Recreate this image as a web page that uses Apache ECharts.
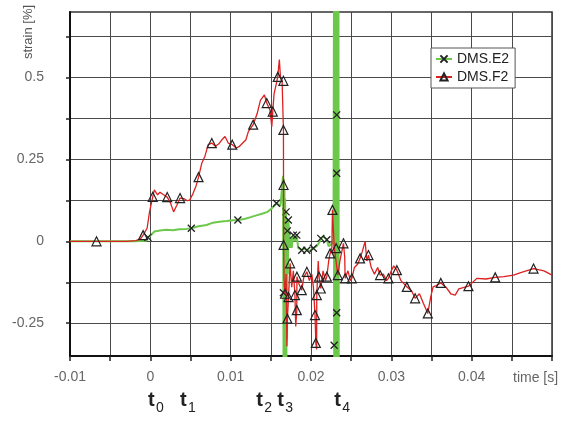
<!DOCTYPE html>
<html><head><meta charset="utf-8">
<script src="https://cdn.jsdelivr.net/npm/echarts@6/dist/echarts.min.js"></script>
<style>html,body{margin:0;padding:0;background:#fff}#c{width:565px;height:421px}</style>
</head><body><div id="c"></div>
<script>
const xLabelValues = [-0.01, 0, 0.01, 0.02, 0.03, 0.04];
const yLabelValues = [-0.25, 0, 0.25, 0.5];
const yTickValues = [-0.25, -0.125, 0, 0.125, 0.25, 0.375, 0.5, 0.625];
const seriesNames = ['DMS.E2', 'DMS.F2'];
const eventSubs = ['0', '1', '2', '3', '4'];
const eventTimes = [-0.0003, 0.0037, 0.0132, 0.0158, 0.0229];
const xAxisTitle = 'time [s]';
const yAxisTitle = 'strain [%]';

// [time, strain, marker]
const greenData = [
  [-0.01,0,0],[-0.0067,0,0],[-0.002,0,0],[-0.0005,0.002,0],[-0.0003,0.012,1],[0.0002,0.022,0],
  [0.0005,0.03,0],[0.0012,0.033,0],[0.002,0.035,0],[0.0028,0.034,0],[0.0036,0.037,0],[0.0045,0.038,0],
  [0.0051,0.04,1],[0.006,0.046,0],[0.007,0.05,0],[0.0078,0.057,0],[0.0086,0.06,0],[0.0095,0.062,0],
  [0.0103,0.064,0],[0.0109,0.065,1],[0.0117,0.068,0],[0.0125,0.074,0],[0.0133,0.08,0],[0.014,0.085,0],
  [0.0146,0.09,0],[0.0151,0.1,0],[0.0157,0.116,1],[0.0162,0.108,0],
  [0.01652,0.2,0],[0.01656,-0.157,1],[0.01658,-0.36,0],[0.01662,0.19,0],[0.01666,-0.36,0],[0.0167,0.16,0],
  [0.01674,-0.36,0],[0.01678,0.13,0],[0.01682,-0.36,0],[0.0169,0.09,1],[0.01694,-0.36,0],[0.01698,0.07,0],
  [0.01702,-0.3,0],[0.01706,0.032,1],[0.01712,-0.1,0],[0.01718,0.065,1],[0.0173,0.02,0],[0.0174,-0.02,0],
  [0.0175,0.01,0],[0.0176,-0.02,0],[0.0177,0.005,0],
  [0.0178,0.019,1],[0.018,0.0,0],[0.01823,0.019,1],[0.0184,-0.02,0],[0.0186,-0.025,0],[0.01885,-0.027,1],
  [0.0191,-0.02,0],[0.01948,-0.027,1],[0.0198,-0.03,0],[0.0203,-0.021,1],[0.0207,-0.015,0],[0.021,-0.005,0],
  [0.02122,0.009,1],[0.0216,0.015,0],[0.02197,0.005,1],[0.0222,-0.015,0],[0.0225,-0.01,0],[0.0228,0.0,0],
  [0.02286,0.75,0],[0.02288,-0.317,1],[0.0229,-0.36,0],[0.02294,0.75,0],[0.02298,-0.36,0],[0.02302,0.75,0],
  [0.02306,-0.36,0],[0.0231,0.75,0],[0.02314,-0.36,0],[0.02318,0.75,0],[0.0232,0.386,1],[0.0232,0.208,1],
  [0.0232,-0.218,1],[0.02322,-0.36,0],[0.02326,0.75,0],[0.0233,-0.36,0],[0.02334,0.75,0],[0.02338,-0.36,0],
  [0.02342,0.75,0],[0.02345,-0.36,0]
];

const redData = [
  [-0.01,0,0],[-0.0067,0,1],[-0.003,0,0],[-0.0018,0.002,0],[-0.0012,0.008,0],[-0.0009,0.019,1],
  [-0.0004,0.04,0],[-0.0001,0.09,0],[0.0003,0.136,1],[0.0005,0.157,0],[0.0009,0.142,0],[0.0012,0.15,0],
  [0.0016,0.143,0],[0.0021,0.135,1],[0.0025,0.118,0],[0.0029,0.09,0],[0.0033,0.11,0],[0.0037,0.132,1],
  [0.0042,0.13,0],[0.0046,0.124,0],[0.0049,0.126,0],[0.0053,0.145,0],[0.0057,0.17,0],[0.006,0.196,1],
  [0.0064,0.238,0],[0.0068,0.26,0],[0.0072,0.295,0],[0.00765,0.30,1],[0.0081,0.29,0],[0.0085,0.297,0],
  [0.0089,0.31,0],[0.0093,0.32,0],[0.0097,0.3,0],[0.0102,0.295,1],[0.0107,0.285,0],[0.0111,0.29,0],
  [0.0115,0.3,0],[0.0119,0.31,0],[0.0122,0.335,0],[0.0128,0.356,1],[0.0133,0.39,0],[0.0137,0.43,0],
  [0.0142,0.447,0],[0.01449,0.422,1],[0.0149,0.40,0],[0.01512,0.35,0],[0.01524,0.396,1],[0.0154,0.45,0],
  [0.0157,0.483,0],[0.01586,0.502,1],[0.01606,0.555,0],[0.0162,0.50,0],[0.0164,0.49,0],[0.01656,0.49,1],
  [0.01657,0.34,1],[0.01658,0.172,1],[0.01659,-0.011,1],[0.01665,-0.12,0],[0.01677,-0.16,1],[0.0169,-0.1,0],
  [0.017,-0.32,0],[0.01706,-0.236,1],[0.0172,-0.17,1],[0.0173,-0.12,0],[0.0174,-0.067,1],[0.0176,-0.14,0],
  [0.0178,-0.09,0],[0.018,-0.164,1],[0.0181,-0.26,0],[0.01823,-0.21,1],[0.01825,-0.108,1],[0.0185,-0.13,0],
  [0.01885,-0.149,1],[0.0191,-0.11,0],[0.01948,-0.093,1],[0.0198,-0.12,0],[0.0201,-0.1,0],[0.0203,-0.14,0],
  [0.0205,-0.225,1],[0.0206,-0.31,1],[0.0207,-0.33,0],[0.02072,-0.164,1],[0.0209,-0.06,0],[0.021,-0.108,1],
  [0.02122,-0.144,1],[0.0215,-0.09,0],[0.0218,-0.12,0],[0.02197,-0.108,1],[0.0222,-0.06,0],[0.02238,-0.037,1],
  [0.0226,-0.02,0],[0.02267,0.096,1],[0.0228,0.1,0],[0.0229,-0.02,0],[0.02313,-0.021,1],[0.02334,-0.103,1],
  [0.0236,-0.06,0],[0.02404,-0.006,1],[0.0242,-0.05,0],[0.02425,-0.113,1],[0.0246,-0.09,0],[0.0249,-0.12,0],
  [0.02508,-0.113,1],[0.0254,-0.08,0],[0.0258,-0.07,0],[0.02611,-0.052,1],[0.0264,-0.03,0],[0.02674,0.0,0],
  [0.02695,-0.06,0],[0.02715,-0.042,1],[0.0275,-0.08,0],[0.0279,-0.1,0],[0.0283,-0.08,0],[0.0286,-0.103,1],
  [0.029,-0.1,0],[0.0294,-0.12,0],[0.02964,-0.113,1],[0.03,-0.09,0],[0.0303,-0.075,0],[0.03069,-0.088,1],
  [0.0312,-0.12,0],[0.03193,-0.139,1],[0.0325,-0.15,0],[0.03296,-0.174,1],[0.0335,-0.16,0],[0.034,-0.19,0],
  [0.03454,-0.22,1],[0.0349,-0.17,0],[0.0352,-0.139,0],[0.0356,-0.135,0],[0.03616,-0.127,1],[0.0368,-0.14,0],
  [0.0374,-0.16,0],[0.03795,-0.164,0],[0.0384,-0.145,0],[0.0396,-0.137,1],[0.04065,-0.113,0],[0.0418,-0.115,0],
  [0.04293,-0.11,1],[0.044,-0.108,0],[0.0452,-0.103,0],[0.0462,-0.095,0],[0.0477,-0.083,1],[0.049,-0.09,0],
  [0.05,-0.103,0]
];

const FONT = '"Liberation Sans", Arial, sans-serif';
function toItems(arr) {
  return arr.map(d => d[2] ? { value: [d[0], d[1]] } : { value: [d[0], d[1]], symbol: 'none' });
}
const chart = echarts.init(document.getElementById('c'), null, { renderer: 'canvas' });
chart.setOption({
  animation: false,
  backgroundColor: '#fff',
  grid: { left: 70, right: 13, top: 12, bottom: 65, show: true, borderColor: '#333', borderWidth: 1.5, backgroundColor: 'transparent' },
  legend: {
    data: seriesNames, orient: 'vertical', left: 431, top: 48,
    padding: [4, 6, 4, 4], itemGap: 4, itemWidth: 16, itemHeight: 9,
    borderColor: '#555', borderWidth: 1, backgroundColor: '#fff', borderRadius: 0,
    textStyle: { fontFamily: FONT, fontSize: 14, color: '#222' }
  },
  xAxis: {
    type: 'value', min: -0.01, max: 0.05, interval: 0.005,
    axisLine: { onZero: false, lineStyle: { color: '#111', width: 2 } },
    axisTick: { show: true, inside: false, length: 5, lineStyle: { color: '#222', width: 1.5 } },
    splitLine: { show: true, lineStyle: { color: '#4a4a4a', width: 1 } },
    axisLabel: {
      customValues: xLabelValues, margin: 14, color: '#666', fontFamily: FONT, fontSize: 14,
      formatter: v => String(+v.toFixed(3))
    }
  },
  yAxis: {
    type: 'value', min: -0.35, max: 0.7,
    axisLine: { onZero: false, lineStyle: { color: '#111', width: 2 } },
    axisTick: { show: true, inside: false, length: 4, customValues: yTickValues, lineStyle: { color: '#222', width: 1.5 } },
    splitLine: { show: true, lineStyle: { color: '#4a4a4a', width: 1 } },
    axisLabel: {
      customValues: yLabelValues, margin: 26, color: '#666', fontFamily: FONT, fontSize: 14,
      formatter: v => String(+v.toFixed(3))
    }
  },
  series: [
    {
      name: seriesNames[0], type: 'line', data: toItems(greenData),
      symbol: 'path://M0,0L10,10M10,0L0,10', symbolSize: 7, showSymbol: true,
      lineStyle: { color: '#6cc84a', width: 2 },
      itemStyle: { color: 'rgba(0,0,0,0)', borderColor: '#222', borderWidth: 1.3 },
      emphasis: { disabled: true }, z: 2
    },
    {
      name: seriesNames[1], type: 'line', data: toItems(redData),
      symbol: 'triangle', symbolSize: 9, showSymbol: true,
      lineStyle: { color: '#dd2020', width: 1.3 },
      itemStyle: { color: 'rgba(255,255,255,0)', borderColor: '#222', borderWidth: 1.2 },
      emphasis: { disabled: true }, z: 3
    }
  ]
});

const g = [];
g.push({ type: 'text', x: 28, y: 32, rotation: Math.PI / 2,
  style: { text: yAxisTitle, font: '13px ' + FONT, fill: '#555', align: 'center', verticalAlign: 'middle' } });
g.push({ type: 'text', x: 513, y: 378,
  style: { text: xAxisTitle, font: '14px ' + FONT, fill: '#666', align: 'left', verticalAlign: 'middle' } });
eventTimes.forEach((t, i) => {
  const px = chart.convertToPixel({ xAxisIndex: 0 }, t);
  g.push({ type: 'text', x: px, y: 400,
    style: { text: 't', font: 'bold 20px ' + FONT, fill: '#222', align: 'left', verticalAlign: 'middle' } });
  g.push({ type: 'text', x: px + 8, y: 408,
    style: { text: eventSubs[i], font: '14px ' + FONT, fill: '#222', align: 'left', verticalAlign: 'middle' } });
});
chart.setOption({ graphic: g });
</script>
</body></html>
